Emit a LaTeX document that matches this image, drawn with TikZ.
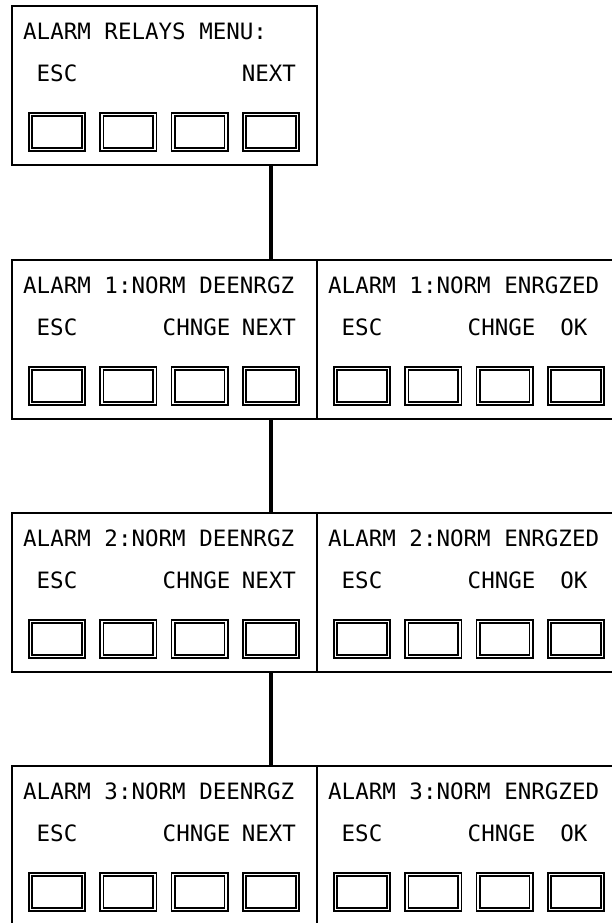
\documentclass[tikz,border=0pt]{standalone}
\usepackage{fontspec}
\setmonofont{DejaVu Sans Mono}
\usetikzlibrary{calc}
\tikzset{panel/.style={draw, line width=1.6pt, minimum width=305pt, minimum height=159pt, anchor=north west, inner sep=0pt},
  key/.style={draw, line width=1.7pt, double, double distance=1.6pt, minimum width=53pt, minimum height=35pt, inner sep=0pt},
  lbl/.style={inner sep=0pt},
  link/.style={line width=4pt}}

\begin{document}
\begin{tikzpicture}[x=1pt, y=-1pt, font=\ttfamily\fontsize{22.5}{24}\selectfont]
  \useasboundingbox (0,0) rectangle (612,923);
  \clip (0,0) rectangle (612,923);
  % panels: name / left / top / title / third key / fourth key
  \foreach \n/\x/\y/\t/\c/\d in {m/11/5/ALARM RELAYS MENU:/{}/NEXT,
      a1/11/259/ALARM 1:NORM DEENRGZ/CHNGE/NEXT, e1/316/259/ALARM 1:NORM ENRGZED/CHNGE/OK,
      a2/11/512/ALARM 2:NORM DEENRGZ/CHNGE/NEXT, e2/316/512/ALARM 2:NORM ENRGZED/CHNGE/OK,
      a3/11/765/ALARM 3:NORM DEENRGZ/CHNGE/NEXT, e3/316/765/ALARM 3:NORM ENRGZED/CHNGE/OK} {
    \node[panel] (\n) at (\x,\y) {};
    \node[lbl, anchor=west] (\n-t) at (\x+12,\y+26) {\t};
    \foreach \k in {1,...,4}
      \node[key] (\n-k\k) at (\x+46+71.3*\k-71.3,\y+127) {};
    % soft key labels
    \node[lbl] (\n-esc) at ([yshift=58.5pt]\n-k1) {ESC};
    \node[lbl] (\n-chg) at ([xshift=-3pt,yshift=58.5pt]\n-k3) {\c};
    \node[lbl] (\n-nxt) at ([xshift=-2pt,yshift=58.5pt]\n-k4) {\d};
  }
  % menu chain (under the NEXT key)
  \draw[link] (m-k4 |- m.south) -- (m-k4 |- a1.north);
  \draw[link] (a1-k4 |- a1.south) -- (a1-k4 |- a2.north);
  \draw[link] (a2-k4 |- a2.south) -- (a2-k4 |- a3.north);
\end{tikzpicture}
\end{document}
